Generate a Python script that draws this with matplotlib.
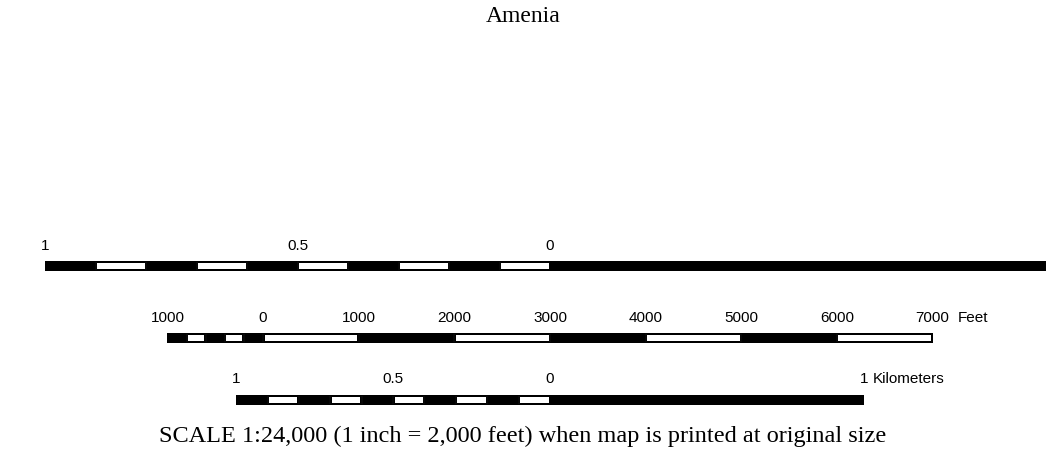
import matplotlib
matplotlib.use("Agg")
import matplotlib.pyplot as plt
from matplotlib.patches import Rectangle

# ---------------- data ----------------
title = "Amenia"
caption = "SCALE 1:24,000 (1 inch = 2,000 feet) when map is printed at original size"

# miles scale (negative = left of zero)
mile_label_vals = [-1.0, -0.5, 0.0]
mile_labels = ["1", "0.5", "0"]
mile_sub_edges = [-1.0, -0.9, -0.8, -0.7, -0.6, -0.5, -0.4, -0.3, -0.2, -0.1, 0.0]
mile_end = 1.0

# feet scale
feet_label_vals = [-1000, 0, 1000, 2000, 3000, 4000, 5000, 6000, 7000]
feet_labels = ["1000", "0", "1000", "2000", "3000", "4000", "5000", "6000", "7000"]
feet_sub_edges = [-1000, -800, -600, -400, -200, 0]
feet_major_edges = [0, 1000, 2000, 3000, 4000, 5000, 6000, 7000]
feet_at_mile_zero = 3000
feet_per_mile = 5280
feet_unit = "Feet"

# kilometre scale
km_label_vals = [-1.0, -0.5, 0.0, 1.0]
km_labels = ["1", "0.5", "0", "1"]
km_sub_edges = [-1.0, -0.9, -0.8, -0.7, -0.6, -0.5, -0.4, -0.3, -0.2, -0.1, 0.0]
km_end = 1.0
km_per_mile = 1.609344
km_unit = "Kilometers"

# ---------------- layout ----------------
W, H = 1046, 462
px_per_mile = 505.0
zero_px = 550.0
px = 1.0 / px_per_mile  # one pixel in miles

fig = plt.figure(figsize=(W / 100, H / 100), dpi=100)
ax = fig.add_axes([0, 0, 1, 1])
ax.set_xlim(-zero_px / px_per_mile, (W - zero_px) / px_per_mile)
ax.set_ylim(H, 0)
ax.axis("off")

sans = "Liberation Sans"
serif = "Liberation Serif"
bar_h = 10
lab_fs = 11


def draw_bar(edges_mi, y_top, white_idx):
    ax.add_patch(Rectangle((edges_mi[0], y_top), edges_mi[-1] - edges_mi[0], bar_h,
                           facecolor="black", edgecolor="none"))
    for i in white_idx:
        x0, x1 = edges_mi[i], edges_mi[i + 1]
        ax.add_patch(Rectangle((x0 + 1.5 * px, y_top + 2), (x1 - x0) - 3 * px, bar_h - 4,
                               facecolor="white", edgecolor="none"))
    for e in edges_mi[1:-1]:
        ax.plot([e, e], [y_top + 1, y_top + bar_h - 1], color="#2a2a2a", lw=0.3)


def ft2mi(f):
    return (f - feet_at_mile_zero) / feet_per_mile


def km2mi(k):
    return k / km_per_mile


# miles bar
y_m = 261
ax.add_patch(Rectangle((mile_sub_edges[0], y_m), mile_end - mile_sub_edges[0], bar_h,
                       facecolor="black", edgecolor="none"))
draw_bar(mile_sub_edges, y_m, [1, 3, 5, 7, 9])
for v, s in zip(mile_label_vals, mile_labels):
    ax.text(v, y_m - 15, s, ha="center", va="center", fontsize=lab_fs, family=sans)

# feet bar
y_f = 333
sub_mi = [ft2mi(f) for f in feet_sub_edges]
maj_mi = [ft2mi(f) for f in feet_major_edges]
all_edges = sub_mi + maj_mi[1:]
draw_bar(all_edges, y_f, [1, 3, 5, 7, 9, 11])
for v, s in zip(feet_label_vals, feet_labels):
    ax.text(ft2mi(v), y_f - 15, s, ha="center", va="center", fontsize=lab_fs, family=sans)
ax.text(ft2mi(feet_label_vals[-1]) + 25 * px, y_f - 15, feet_unit, ha="left", va="center",
        fontsize=lab_fs, family=sans)

# km bar
y_k = 395
km_mi = [km2mi(k) for k in km_sub_edges]
ax.add_patch(Rectangle((km_mi[-1], y_k), km2mi(km_end) - km_mi[-1], bar_h,
                       facecolor="black", edgecolor="none"))
draw_bar(km_mi, y_k, [1, 3, 5, 7, 9])
for v, s in zip(km_label_vals, km_labels):
    ax.text(km2mi(v), y_k - 16, s, ha="center", va="center", fontsize=lab_fs, family=sans)
ax.text(km2mi(km_label_vals[-1]) + 9 * px, y_k - 16, km_unit, ha="left", va="center",
        fontsize=lab_fs, family=sans)

# titles
fig.text(0.5, 1 - 17 / H, title, ha="center", va="center", fontsize=17, family=serif)
fig.text(0.5, 1 - 436 / H, caption, ha="center", va="center", fontsize=17.5, family=serif)

fig.savefig("out.png", dpi=100)
